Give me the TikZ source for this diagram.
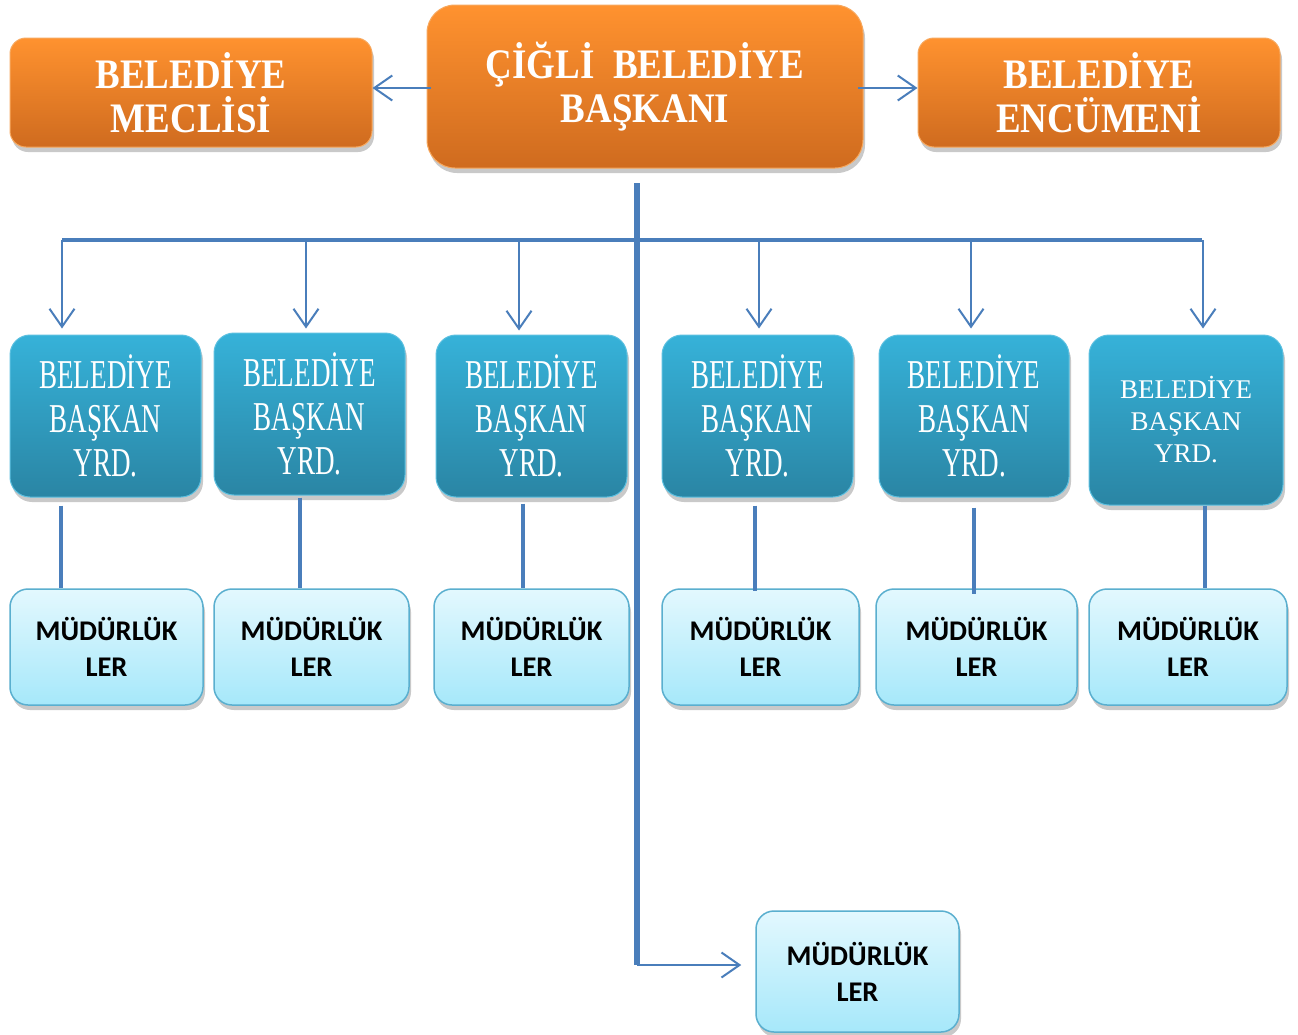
\documentclass[tikz,border=0pt]{standalone}
\usepackage{fontspec}
\usetikzlibrary{arrows.meta,shadows}
\newfontfamily\orfont[FakeStretch=0.88]{Liberation Serif}
\newfontfamily\bluefont[FakeStretch=0.66]{Liberation Serif}
\newfontfamily\plainserif{Liberation Serif}
\newfontfamily\mudfont{Carlito}
\definecolor{orTop}{HTML}{FF922F}
\definecolor{orBot}{HTML}{CF6B1F}
\definecolor{orEdge}{HTML}{F7A85E}
\definecolor{blTop}{HTML}{36B2D9}
\definecolor{blBot}{HTML}{2A85A4}
\definecolor{blEdge}{HTML}{5CC0E0}
\definecolor{ltTop}{HTML}{E3F8FE}
\definecolor{ltBot}{HTML}{A6E8FA}
\definecolor{ltEdge}{HTML}{5AAFCF}
\definecolor{lineBlue}{HTML}{4A7EBB}
\tikzset{
  shad/.style={drop shadow={shadow xshift=2pt,shadow yshift=-5pt,opacity=0.35,fill=black!60}},
  orbox/.style={shad,rounded corners=16pt,top color=orTop,bottom color=orBot,draw=orEdge,line width=1pt,
    text=white,align=center,font=\orfont\bfseries\fontsize{42}{44}\selectfont},
  bigor/.style={orbox,rounded corners=28pt},
  blbox/.style={shad,rounded corners=20pt,top color=blTop,bottom color=blBot,draw=blEdge,line width=1pt,
    text=white,align=center,font=\bluefont\fontsize{41}{44}\selectfont},
  ltbox/.style={shad,rounded corners=18pt,top color=ltTop,bottom color=ltBot,draw=ltEdge,line width=1.5pt,
    text=black,align=center,font=\mudfont\bfseries\fontsize{28.5}{36}\selectfont},
  thinarr/.style={draw=lineBlue,line width=2pt,-{Straight Barb[length=18pt,width=25pt,line width=2pt]}},
  bar/.style={draw=lineBlue,line width=4pt},
  trunk/.style={draw=lineBlue,line width=6pt},
  vline/.style={draw=lineBlue,line width=4.5pt},
}
\begin{document}
\begin{tikzpicture}[x=1pt,y=-1pt]
\useasboundingbox[fill=white] (0,0) rectangle (1298,1034);

% top row
\node[orbox,minimum width=362,minimum height=109] (mec) at (191,92.5) {BELEDİYE\\MECLİSİ};
\node[bigor,minimum width=436,minimum height=163] (ctr) at (645,86.5) {ÇİĞLİ\ \ BELEDİYE\\BAŞKANI};
\node[orbox,minimum width=362,minimum height=109] (enc) at (1099,92.5) {BELEDİYE\\ENCÜMENİ};

\coordinate (al) at (431,88);
\coordinate (ar) at (858,88);
\draw[thinarr] (al) -- (al -| mec.east);
\draw[thinarr] (ar) -- (ar -| enc.west);

% deputies
\node[blbox,minimum width=191,minimum height=162] (b1) at (105.5,416) {BELEDİYE\\BAŞKAN\\YRD.};
\node[blbox,minimum width=191,minimum height=162] (b2) at (309.5,414) {BELEDİYE\\BAŞKAN\\YRD.};
\node[blbox,minimum width=191,minimum height=162] (b3) at (531.5,416) {BELEDİYE\\BAŞKAN\\YRD.};
\node[blbox,minimum width=191,minimum height=162] (b4) at (757.5,416) {BELEDİYE\\BAŞKAN\\YRD.};
\node[blbox,minimum width=190,minimum height=162] (b5) at (974,416) {BELEDİYE\\BAŞKAN\\YRD.};
\node[blbox,minimum width=194,minimum height=170,font=\plainserif\fontsize{27}{32}\selectfont] (b6) at (1186,420) {BELEDİYE\\BAŞKAN\\YRD.};

% directorates
\node[ltbox,minimum width=193,minimum height=116] (m1) at (106.5,647) {MÜDÜRLÜK\\LER};
\node[ltbox,minimum width=195,minimum height=116] (m2) at (311.5,647) {MÜDÜRLÜK\\LER};
\node[ltbox,minimum width=195,minimum height=116] (m3) at (531.5,647) {MÜDÜRLÜK\\LER};
\node[ltbox,minimum width=197,minimum height=116] (m4) at (760.5,647) {MÜDÜRLÜK\\LER};
\node[ltbox,minimum width=201,minimum height=116] (m5) at (976.5,647) {MÜDÜRLÜK\\LER};
\node[ltbox,minimum width=198,minimum height=116] (m6) at (1188,647) {MÜDÜRLÜK\\LER};
\node[ltbox,minimum width=203,minimum height=121] (m7) at (857.5,971.5) {MÜDÜRLÜK\\LER};

% trunk and bar
\coordinate (trtop) at (637,183);
\coordinate (trbot) at (637,965);
\coordinate (hl) at (62,240);
\coordinate (hr) at (1202,240);
\draw[bar] (hl) -- (hr);
\draw[trunk] (trtop) -- (trbot);

% drops with arrows
\coordinate (d1) at (62,240);
\coordinate (d2) at (306,240);
\coordinate (d3) at (519,240);
\coordinate (d4) at (759,240);
\coordinate (d5) at (971,240);
\coordinate (d6) at (1203,240);
\draw[thinarr,shorten >=6pt] (d1) -- (d1 |- b1.north);
\draw[thinarr,shorten >=4pt] (d2) -- (d2 |- b2.north);
\draw[thinarr,shorten >=4pt] (d3) -- (d3 |- b3.north);
\draw[thinarr,shorten >=6pt] (d4) -- (d4 |- b4.north);
\draw[thinarr,shorten >=6pt] (d5) -- (d5 |- b5.north);
\draw[thinarr,shorten >=6pt] (d6) -- (d6 |- b6.north);

% deputy to directorate
\coordinate (c1) at (61,0);
\coordinate (c2) at (300,0);
\coordinate (c3) at (523,0);
\coordinate (c4) at (755,0);
\coordinate (c5) at (974,0);
\coordinate (c6) at (1205,0);
\draw[vline] ([yshift=-8pt]c1 |- b1.south) -- (c1 |- m1.north);
\draw[vline] ([yshift=-2pt]c2 |- b2.south) -- (c2 |- m2.north);
\draw[vline] ([yshift=-6pt]c3 |- b3.south) -- (c3 |- m3.north);
\draw[vline] ([yshift=-8pt]c4 |- b4.south) -- ([yshift=-3pt]c4 |- m4.north);
\draw[vline] ([yshift=-10pt]c5 |- b5.south) -- ([yshift=-6pt]c5 |- m5.north);
\draw[vline] (c6 |- b6.south) -- (c6 |- m6.north);

% bottom branch
\draw[thinarr,shorten >=14pt] (trbot) -- (trbot -| m7.west);
\end{tikzpicture}
\end{document}
